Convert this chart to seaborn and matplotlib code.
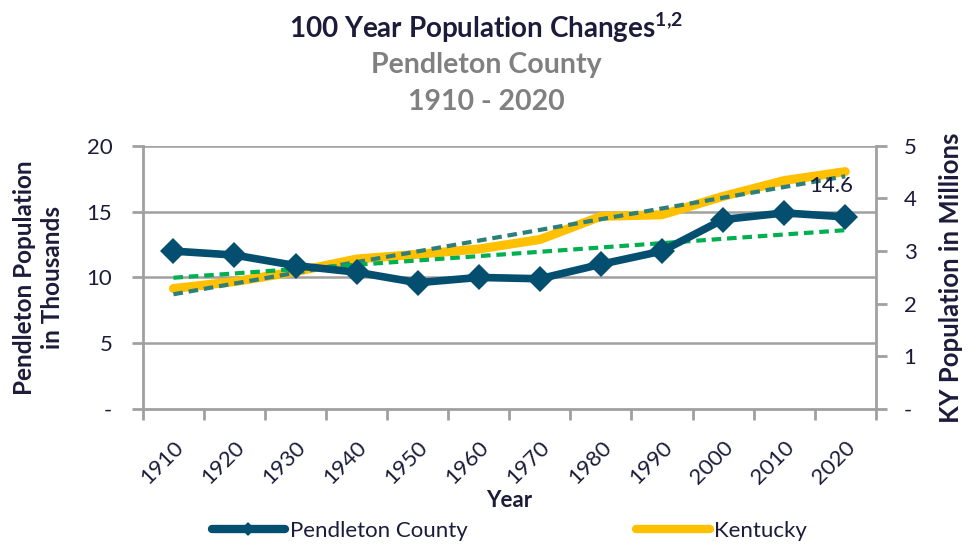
import numpy as np
import pandas as pd
import matplotlib
matplotlib.use("Agg")
import matplotlib.pyplot as plt
import seaborn as sns
from matplotlib.lines import Line2D

years = ["1910", "1920", "1930", "1940", "1950", "1960", "1970", "1980", "1990", "2000", "2010", "2020"]
pendleton = [12.0, 11.7, 10.9, 10.4, 9.6, 10.0, 9.9, 11.0, 12.0, 14.4, 14.9, 14.6]  # thousands
kentucky = [2.29, 2.42, 2.61, 2.85, 2.94, 3.04, 3.22, 3.66, 3.69, 4.04, 4.34, 4.51]  # millions
left_ticks = [0, 5, 10, 15, 20]
left_labels = ["-", "5", "10", "15", "20"]
right_ticks = [0, 1, 2, 3, 4, 5]
right_labels = ["-", "1", "2", "3", "4", "5"]

sns.set_theme(style="white")
FONT = "Lato"
plt.rcParams["font.family"] = [FONT, "DejaVu Sans"]
plt.rcParams["mathtext.fontset"] = "custom"
plt.rcParams["mathtext.rm"] = FONT
plt.rcParams["mathtext.bf"] = FONT + ":bold"

C_PEN = "#044E70"
C_KY = "#FFC000"
C_KYTREND = "#2E7F7A"
C_PENTREND = "#00B050"
C_TXT = "#1C1C3A"
C_GRID = "#A0A0A0"

idx = np.arange(len(years))
df = pd.DataFrame({"i": idx, "year": years, "pen": pendleton, "ky": kentucky})
pen_fit = np.polyval(np.polyfit(idx, pendleton, 1), idx)
ky_fit = np.polyval(np.polyfit(idx, kentucky, 1), idx)

fig = plt.figure(figsize=(9.72, 5.44), dpi=100)
ax = fig.add_axes([0.147, 0.248, 0.754, 0.484])
ax2 = ax.twinx()

ax.set_xlim(-0.5, 11.5)
ax.set_ylim(0, 20)
ax2.set_ylim(0, 5)

for t in left_ticks[1:]:
    ax2.axhline(t / 4, color=C_GRID, lw=1.8, zorder=0)

# Kentucky (secondary axis)
sns.lineplot(data=df, x="i", y="ky", ax=ax2, color=C_KY, lw=6.5, zorder=2,
             solid_capstyle="round", legend=False)
sns.lineplot(x=idx, y=ky_fit, ax=ax2, color=C_KYTREND, lw=3, zorder=3,
             legend=False, linestyle=(0, (2.3, 1.4)))
ax.set_zorder(ax2.get_zorder() + 1)
ax.patch.set_visible(False)
# Pendleton (primary axis)
sns.lineplot(data=df, x="i", y="pen", ax=ax, color=C_PEN, lw=5.5, marker="D",
             markersize=13, markeredgewidth=0, zorder=4, legend=False)
sns.lineplot(x=idx, y=pen_fit, ax=ax, color=C_PENTREND, lw=3, zorder=3,
             legend=False, linestyle=(0, (2.3, 1.4)))

ax.annotate(f"{pendleton[-1]:.1f}", (idx[-1], pendleton[-1]), xytext=(-10, 22),
            textcoords="offset points", ha="center", va="center",
            fontsize=16, color=C_TXT, zorder=6)

for a in (ax, ax2):
    for s in a.spines.values():
        s.set_visible(False)
for side in ("left", "right", "bottom"):
    ax2.spines[side].set_visible(True)
    ax2.spines[side].set_color(C_GRID)
    ax2.spines[side].set_linewidth(2)

ax.set_xticks(idx)
ax.set_xticklabels(years, rotation=45, ha="right", rotation_mode="anchor",
                   fontsize=16, color=C_TXT)
ax.set_xticks(np.arange(-0.5, 12, 1), minor=True)
ax.tick_params(axis="x", which="major", length=0, pad=20)
ax.tick_params(axis="x", which="minor", length=8, width=2, color=C_GRID, direction="out")
ax.xaxis.set_ticks_position("bottom")

ax.set_yticks(left_ticks)
ax.set_yticklabels(left_labels, fontsize=16, color=C_TXT)
ax.tick_params(axis="y", length=8, width=2, color=C_GRID, pad=14, left=True)
ax2.set_yticks(right_ticks)
ax2.set_yticklabels(right_labels, fontsize=16, color=C_TXT)
ax2.tick_params(axis="y", length=8, width=2, color=C_GRID, pad=12, right=True)
ax2.tick_params(axis="x", bottom=False, labelbottom=False)

ax.set_xlabel("Year", fontsize=16, fontweight="bold", color=C_TXT, labelpad=2)
ax.set_ylabel("Pendleton Population\nin Thousands", fontsize=17.5, fontweight="bold",
              color=C_TXT, labelpad=16, linespacing=1.3)
ax2.set_ylabel("KY Population in Millions", fontsize=18.5, fontweight="bold",
               color=C_TXT, labelpad=16)

fig.text(0.5, 0.950, r"100 Year Population Changes$^{\mathbf{1{,}2}}$", ha="center",
         va="center", fontsize=20, fontweight="bold", color=C_TXT)
fig.text(0.5, 0.880, "Pendleton County", ha="center", va="center", fontsize=20.5,
         fontweight="bold", color="#808080")
fig.text(0.5, 0.812, "1910 - 2020", ha="center", va="center", fontsize=20.5,
         fontweight="bold", color="#808080")

handles = [Line2D([], [], color=C_PEN, lw=6, marker="D", markersize=7,
                  markeredgewidth=0, solid_capstyle="round"),
           Line2D([], [], color=C_KY, lw=6, solid_capstyle="round")]
fig.legend(handles, ["Pendleton County", "Kentucky"], loc="center",
           bbox_to_anchor=(0.524, 0.024), ncol=2, frameon=False, fontsize=16,
           handlelength=3.3, handletextpad=0.2, columnspacing=7.6,
           labelcolor=C_TXT)

fig.savefig("out.png", dpi=100)
